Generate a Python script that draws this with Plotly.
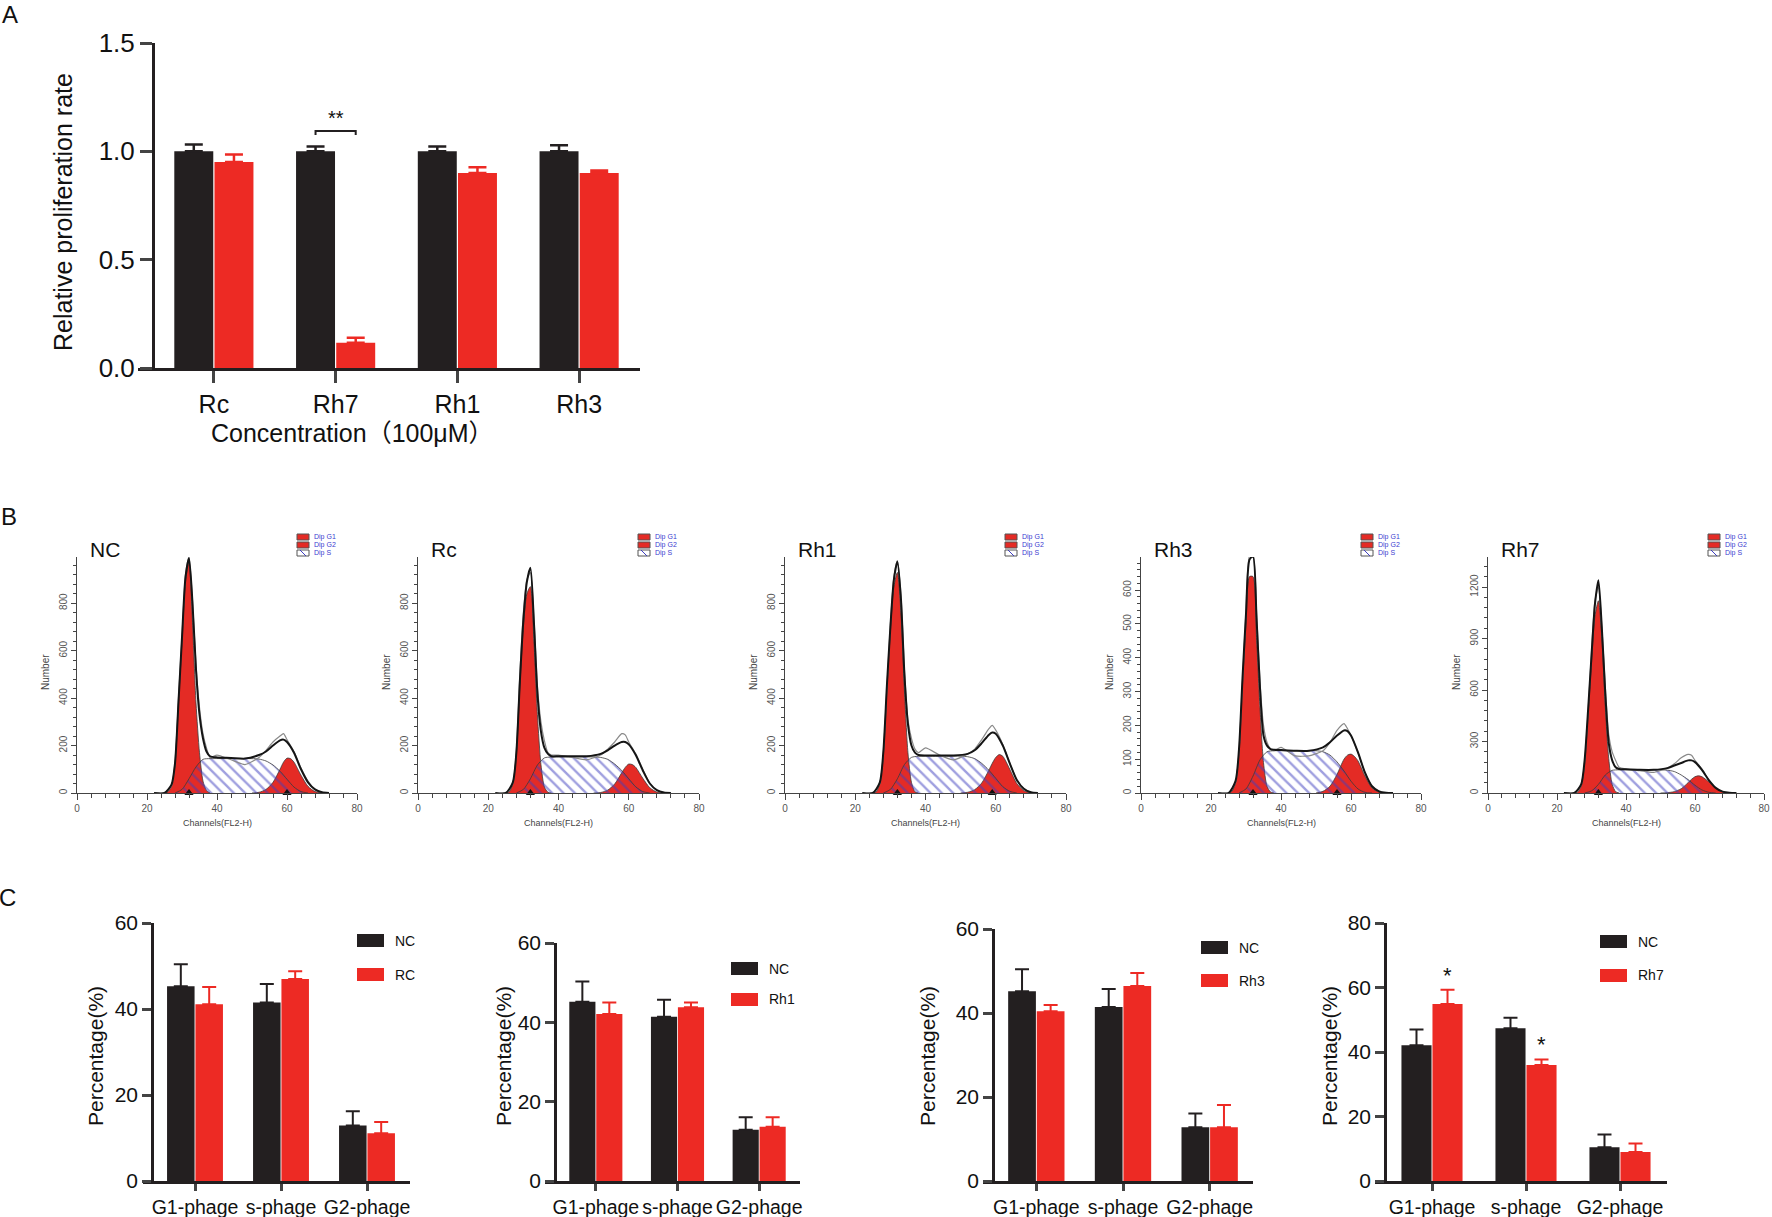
import plotly.graph_objects as go

W, H = 1772, 1217
BLACK = "#231f20"
RED = "#ed2a24"
HRED = "#e42b25"
FONT = "Liberation Sans, Arial, Noto Sans CJK SC, sans-serif"

# ---------------- panel A data ----------------
CATS_A = ["Rc", "Rh7", "Rh1", "Rh3"]
A_CTRL = [1.0, 1.0, 1.0, 1.0]
A_CTRL_ERR = [0.031, 0.022, 0.022, 0.028]
A_TREAT = [0.951, 0.117, 0.900, 0.900]
A_TREAT_ERR = [0.034, 0.023, 0.026, 0.012]

# ---------------- panel B data (cell cycle histograms) ----------------
B_NAMES = ["NC", "Rc", "Rh1", "Rh3", "Rh7"]
G1_CH = [25, 26, 27, 28, 29, 30, 31, 32, 33, 34, 35, 36, 37, 38]
S_CH = [28, 30, 32, 34, 36, 38, 42, 46, 50, 52, 54, 56, 58, 60, 62, 64, 66]
G2_CH = [50, 52, 54, 56, 58, 59, 60, 61, 62, 64, 66, 68, 70]
FIT_CH = [22, 25, 27, 28, 29, 30, 31, 32, 33, 34, 35, 36, 37, 38, 40, 44, 48,
          52, 54, 56, 58, 59, 60, 62, 64, 66, 68, 70, 72]

NC_G1 = [0, 5, 30, 120, 380, 640, 890, 975, 720, 380, 170, 50, 10, 0]
NC_S = [0, 15, 60, 110, 142, 145, 145, 145, 145, 143, 135, 118, 92, 58, 25, 6, 0]
NC_G2 = [0, 3, 15, 45, 100, 130, 147, 145, 130, 75, 28, 6, 0]
NC_FIT = [0, 0, 35, 125, 385, 655, 910, 990, 800, 520, 330, 230, 175, 155, 150, 148, 145,
          160, 175, 200, 222, 225, 215, 170, 100, 45, 15, 3, 0]
NC_RAW = [0, 0, 30, 130, 400, 660, 920, 995, 810, 540, 360, 250, 190, 150, 160, 140, 120,
          150, 180, 215, 240, 250, 225, 175, 105, 50, 15, 3, 0]

RC_G1 = [0, 5, 40, 160, 450, 700, 840, 870, 640, 330, 120, 25, 3, 0]
RC_S = [0, 15, 60, 118, 148, 152, 152, 152, 152, 150, 142, 122, 95, 60, 26, 6, 0]
RC_G2 = [0, 2, 12, 38, 85, 108, 122, 120, 108, 62, 22, 4, 0]
RC_FIT = [0, 0, 45, 170, 470, 730, 890, 950, 720, 420, 260, 190, 165, 155, 155, 155, 155,
          165, 180, 200, 215, 215, 205, 160, 95, 40, 12, 2, 0]
RC_RAW = [0, 0, 40, 180, 500, 760, 900, 930, 740, 450, 300, 220, 170, 160, 160, 150, 140,
          160, 185, 215, 250, 245, 215, 165, 100, 40, 12, 2, 0]

RH1_G1 = [0, 5, 40, 160, 430, 680, 870, 930, 760, 430, 170, 45, 5, 0]
RH1_S = [0, 15, 60, 120, 150, 155, 155, 155, 155, 153, 145, 125, 97, 62, 27, 7, 0]
RH1_G2 = [0, 3, 14, 42, 95, 125, 150, 162, 155, 100, 40, 10, 0]
RH1_FIT = [0, 0, 45, 175, 450, 700, 900, 975, 820, 500, 290, 200, 170, 160, 158, 158, 158,
           165, 180, 210, 245, 255, 250, 200, 125, 55, 18, 3, 0]
RH1_RAW = [0, 0, 40, 170, 440, 710, 910, 980, 840, 520, 310, 230, 185, 170, 190, 160, 140,
           165, 185, 225, 270, 285, 265, 205, 125, 55, 18, 3, 0]

RH3_G1 = [0, 5, 30, 120, 320, 500, 640, 640, 460, 250, 90, 20, 3, 0]
RH3_S = [0, 12, 50, 98, 122, 125, 125, 125, 125, 122, 112, 92, 65, 35, 12, 2, 0]
RH3_G2 = [0, 5, 20, 55, 100, 112, 115, 108, 95, 50, 15, 3, 0]
RH3_FIT = [0, 0, 35, 130, 340, 530, 690, 700, 520, 310, 170, 140, 130, 128, 127, 125, 125,
           135, 150, 170, 185, 183, 170, 120, 60, 20, 5, 1, 0]
RH3_RAW = [0, 0, 30, 125, 330, 540, 700, 700, 540, 330, 200, 150, 130, 125, 135, 110, 110,
           125, 150, 185, 205, 190, 170, 120, 60, 20, 5, 1, 0]

RH7_G1 = [0, 5, 40, 170, 450, 760, 1030, 1120, 900, 500, 200, 50, 8, 0]
RH7_S = [0, 12, 50, 105, 132, 135, 135, 135, 135, 133, 125, 105, 78, 45, 18, 4, 0]
RH7_G2 = [0, 2, 8, 25, 60, 80, 95, 100, 95, 65, 28, 8, 0]
RH7_FIT = [0, 0, 50, 190, 480, 800, 1100, 1240, 960, 580, 290, 190, 150, 140, 138, 135, 135,
           145, 160, 175, 190, 190, 180, 135, 75, 30, 8, 2, 0]
RH7_RAW = [0, 0, 45, 180, 470, 820, 1120, 1200, 970, 620, 340, 240, 190, 150, 140, 130, 120,
           145, 170, 205, 225, 220, 190, 140, 75, 30, 8, 2, 0]

B_PEAKS = [[32, 60], [32], [32, 59], [32, 56], [32]]
B_YMAX = [995, 995, 995, 698, 1375]
B_DTICK = [200, 200, 200, 100, 300]

# ---------------- panel C data ----------------
PHASES = ["G1-phage", "s-phage", "G2-phage"]
C_TREAT_NAMES = ["RC", "Rh1", "Rh3", "Rh7"]
C_NC = [[45.3, 41.5, 12.9], [45.2, 41.4, 12.9], [45.2, 41.4, 12.8], [42.1, 47.4, 10.5]]
C_NC_ERR = [[5.1, 4.3, 3.3], [5.1, 4.3, 3.2], [5.2, 4.3, 3.3], [4.9, 3.2, 3.9]]
C_TREAT = [[41.1, 47.0, 11.1], [42.1, 43.8, 13.7], [40.4, 46.4, 12.8], [54.9, 36.0, 9.0]]
C_TREAT_ERR = [[4.0, 1.8, 2.6], [2.9, 1.2, 2.4], [1.5, 3.1, 5.3], [4.4, 1.7, 2.6]]
C_YMAX = [60, 60, 60, 80]
C_STARS = [[], [], [], [0, 1]]


def fx(p):
    return p / W


def fy(p):
    return 1 - p / H


def note(text, x, y, size, color="#111", angle=0, xanchor="center"):
    return dict(text=text, x=fx(x), y=fy(y), xref="paper", yref="paper", showarrow=False,
                xanchor=xanchor, yanchor="middle", textangle=angle,
                font=dict(size=size, color=color))


fig = go.Figure()
layout = dict(width=W, height=H, margin=dict(l=0, r=0, t=0, b=0, autoexpand=False),
              paper_bgcolor="white", plot_bgcolor="white", showlegend=False,
              barmode="group", bargap=0.34, bargroupgap=0.03,
              font=dict(family=FONT, color="#111"))
annotations = []
shapes = []

# ================= panel A =================
a_left, a_yaxis, a_right, a_top, a_bottom = 138, 153, 640, 43, 368
spacing = (a_right - a_yaxis) / 4.0
xs = list(range(len(CATS_A)))
fig.add_trace(go.Bar(x=xs, y=A_CTRL, marker=dict(color=BLACK, line_width=0),
                     error_y=dict(type="data", array=A_CTRL_ERR, arrayminus=[0] * 4,
                                  symmetric=False, color=BLACK, thickness=2.5, width=9),
                     offsetgroup="c", xaxis="x", yaxis="y"))
fig.add_trace(go.Bar(x=xs, y=A_TREAT, marker=dict(color=RED, line_width=0),
                     error_y=dict(type="data", array=A_TREAT_ERR, arrayminus=[0] * 4,
                                  symmetric=False, color=RED, thickness=2.5, width=9),
                     offsetgroup="t", xaxis="x", yaxis="y"))
layout["xaxis"] = dict(domain=[fx(a_left), fx(a_right)],
                       range=[-0.5 - (a_yaxis - a_left) / spacing, 3.5],
                       tickvals=xs, ticktext=CATS_A, tickangle=0, ticks="outside", ticklen=12,
                       tickwidth=3, showline=True, linewidth=3, linecolor=BLACK, showgrid=False,
                       zeroline=False, tickfont=dict(size=25, color="#111"), anchor="y",
                       automargin=False)
layout["yaxis"] = dict(domain=[fy(a_bottom), fy(a_top)], range=[0, 1.5], dtick=0.5,
                       tickformat=".1f", ticks="outside", ticklen=12, tickwidth=3,
                       showline=True, linewidth=3, linecolor=BLACK, showgrid=False,
                       zeroline=False, tickfont=dict(size=26, color="#111"),
                       anchor="free", position=fx(a_yaxis), automargin=False)
annotations.append(note("Relative proliferation rate", 63, 212, 25, angle=-90))
annotations.append(note("Concentration（100μM）", 352, 433, 25))
# significance bracket over Rh7
off = 0.165
shapes.append(dict(type="path", xref="x", yref="y",
                   path=f"M {1 - off},1.075 L {1 - off},1.094 L {1 + off},1.094 L {1 + off},1.075",
                   line=dict(color=BLACK, width=2)))
annotations.append(dict(text="**", x=1, y=1.094, xref="x", yref="y", showarrow=False,
                        xanchor="center", yanchor="bottom", font=dict(size=20)))

# ================= panel B =================
B_LEFT = [77, 418, 785, 1141, 1488]
B_RIGHT = [357, 699, 1066, 1421, 1764]
b_top, b_bottom = 557, 793
G1_SETS = [NC_G1, RC_G1, RH1_G1, RH3_G1, RH7_G1]
S_SETS = [NC_S, RC_S, RH1_S, RH3_S, RH7_S]
G2_SETS = [NC_G2, RC_G2, RH1_G2, RH3_G2, RH7_G2]
FIT_SETS = [NC_FIT, RC_FIT, RH1_FIT, RH3_FIT, RH7_FIT]
RAW_SETS = [NC_RAW, RC_RAW, RH1_RAW, RH3_RAW, RH7_RAW]
outline = dict(color="#3a3a3a", width=0.8, shape="spline", smoothing=0.7)
HATCH = "#3f3fbf"

for i, name in enumerate(B_NAMES):
    k = i + 2
    xa, ya = f"x{k}", f"y{k}"
    fig.add_trace(go.Scatter(x=G1_CH, y=G1_SETS[i], mode="lines", fill="tozeroy",
                             fillcolor=HRED, line=outline, xaxis=xa, yaxis=ya))
    fig.add_trace(go.Scatter(x=G2_CH, y=G2_SETS[i], mode="lines", fill="tozeroy",
                             fillcolor=HRED, line=outline, xaxis=xa, yaxis=ya))
    fig.add_trace(go.Scatter(x=S_CH, y=S_SETS[i], mode="lines", fill="tozeroy",
                             fillcolor="rgba(0,0,0,0)",
                             fillpattern=dict(shape="\\", fgcolor=HATCH,
                                              bgcolor="rgba(0,0,0,0)", size=8, solidity=0.3),
                             line=outline, xaxis=xa, yaxis=ya))
    fig.add_trace(go.Scatter(x=FIT_CH, y=RAW_SETS[i], mode="lines",
                             line=dict(color="#8a8a8a", width=1.2, shape="spline", smoothing=0.6),
                             xaxis=xa, yaxis=ya))
    fig.add_trace(go.Scatter(x=FIT_CH, y=FIT_SETS[i], mode="lines",
                             line=dict(color="#151515", width=2, shape="spline", smoothing=0.7),
                             xaxis=xa, yaxis=ya))
    fig.add_trace(go.Scatter(x=B_PEAKS[i], y=[0] * len(B_PEAKS[i]), mode="markers",
                             marker=dict(symbol="triangle-up", size=8, color="#111"),
                             cliponaxis=False, xaxis=xa, yaxis=ya))
    tick_font = dict(size=10, color="#555")
    layout[f"xaxis{k}"] = dict(domain=[fx(B_LEFT[i]), fx(B_RIGHT[i])], range=[0, 80], dtick=20,
                               tickangle=0, ticks="outside", ticklen=6, tickcolor="#444",
                               showline=True, linecolor="#444", linewidth=1.2, showgrid=False,
                               zeroline=False, tickfont=tick_font, anchor=ya, automargin=False,
                               minor=dict(dtick=4, ticks="outside", ticklen=4, tickcolor="#444"))
    layout[f"yaxis{k}"] = dict(domain=[fy(b_bottom), fy(b_top)], range=[0, B_YMAX[i]],
                               dtick=B_DTICK[i], tickangle=-90, ticks="outside", ticklen=5,
                               tickcolor="#444", showline=True, linecolor="#444", linewidth=1.2,
                               showgrid=False, zeroline=False, tickfont=tick_font, anchor=xa,
                               automargin=False,
                               minor=dict(dtick=B_DTICK[i] / 5, ticks="outside", ticklen=3,
                                          tickcolor="#444"))
    annotations.append(note(name, B_LEFT[i] + 11, 549, 21, xanchor="left"))
    annotations.append(note("Number", B_LEFT[i] - 32, 672, 10, color="#444", angle=-90))
    annotations.append(note("Channels(FL2-H)", (B_LEFT[i] + B_RIGHT[i]) / 2, 823, 9,
                            color="#444"))
    # small legend of the fit components
    lx = B_LEFT[i] + 220
    for j, lab in enumerate(["Dip G1", "Dip G2", "Dip S"]):
        ly = 534 + 8 * j
        shapes.append(dict(type="rect", xref="paper", yref="paper", x0=fx(lx), x1=fx(lx + 12),
                           y0=fy(ly), y1=fy(ly + 6),
                           fillcolor=HRED if j < 2 else "white",
                           line=dict(color="#555", width=1)))
        if j == 2:
            shapes.append(dict(type="line", xref="paper", yref="paper", x0=fx(lx + 3),
                               x1=fx(lx + 9), y0=fy(ly), y1=fy(ly + 6),
                               line=dict(color=HATCH, width=1)))
        annotations.append(note(lab, lx + 15, ly + 3, 7, color="#3b3bd0", xanchor="left"))

# ================= panel C =================
C_LEFT = [143, 545, 983, 1375]
C_YAX = [152, 555, 993, 1385]
C_RIGHT = [410, 800, 1253, 1667]
C_TOP = [923, 943, 929, 923]
c_bottom = 1181
C_TITLE_X = [95, 503, 927, 1329]
C_LEG_X = [357, 731, 1201, 1600]
C_LEG_Y = [934, 962, 941, 935]
C_LEG_DY = [34, 31, 33, 34]

for i in range(4):
    k = i + 7
    xa, ya = f"x{k}", f"y{k}"
    xs = list(range(len(PHASES)))
    fig.add_trace(go.Bar(x=xs, y=C_NC[i], marker=dict(color=BLACK, line_width=0),
                         error_y=dict(type="data", array=C_NC_ERR[i], arrayminus=[0] * 3,
                                      symmetric=False, color=BLACK, thickness=2, width=7),
                         offsetgroup="c", xaxis=xa, yaxis=ya))
    fig.add_trace(go.Bar(x=xs, y=C_TREAT[i], marker=dict(color=RED, line_width=0),
                         error_y=dict(type="data", array=C_TREAT_ERR[i], arrayminus=[0] * 3,
                                      symmetric=False, color=RED, thickness=2, width=7),
                         offsetgroup="t", xaxis=xa, yaxis=ya))
    sp = (C_RIGHT[i] - C_YAX[i]) / 3.0
    layout[f"xaxis{k}"] = dict(domain=[fx(C_LEFT[i]), fx(C_RIGHT[i])],
                               range=[-0.5 - (C_YAX[i] - C_LEFT[i]) / sp, 2.5],
                               tickvals=xs, ticktext=PHASES, tickangle=0, ticks="outside",
                               ticklen=7, tickwidth=2.5, showline=True, linewidth=2.5,
                               linecolor=BLACK, showgrid=False, zeroline=False, anchor=ya,
                               automargin=False, tickfont=dict(size=19.5, color="#111"))
    layout[f"yaxis{k}"] = dict(domain=[fy(c_bottom), fy(C_TOP[i])], range=[0, C_YMAX[i]],
                               dtick=20, ticks="outside", ticklen=9, tickwidth=2.5,
                               showline=True, linewidth=2.5, linecolor=BLACK, showgrid=False,
                               zeroline=False, anchor="free", position=fx(C_YAX[i]),
                               automargin=False, tickfont=dict(size=21, color="#111"))
    annotations.append(note("Percentage(%)", C_TITLE_X[i], 1056, 21, angle=-90))
    for j in C_STARS[i]:
        annotations.append(dict(text="*", x=j + off, y=C_TREAT[i][j] + C_TREAT_ERR[i][j],
                                xref=xa, yref=ya, showarrow=False, xanchor="center",
                                yanchor="bottom", font=dict(size=22)))
    for j, (lab, col) in enumerate([("NC", BLACK), (C_TREAT_NAMES[i], RED)]):
        y0 = C_LEG_Y[i] + C_LEG_DY[i] * j
        shapes.append(dict(type="rect", xref="paper", yref="paper", x0=fx(C_LEG_X[i]),
                           x1=fx(C_LEG_X[i] + 27), y0=fy(y0), y1=fy(y0 + 13),
                           fillcolor=col, line=dict(width=0)))
        annotations.append(note(lab, C_LEG_X[i] + 36, y0 + 6.5, 14, xanchor="left"))

# panel letters
for lab, x, y in [("A", 10, 14), ("B", 9, 516), ("C", 8, 897)]:
    annotations.append(note(lab, x, y, 24))

layout["annotations"] = annotations
layout["shapes"] = shapes
fig.update_layout(**layout)
# drop the default page margin so the figure fills the window exactly
fig.write_html("out.html", config={"displayModeBar": False},
               post_script="document.body.style.margin='0';")
